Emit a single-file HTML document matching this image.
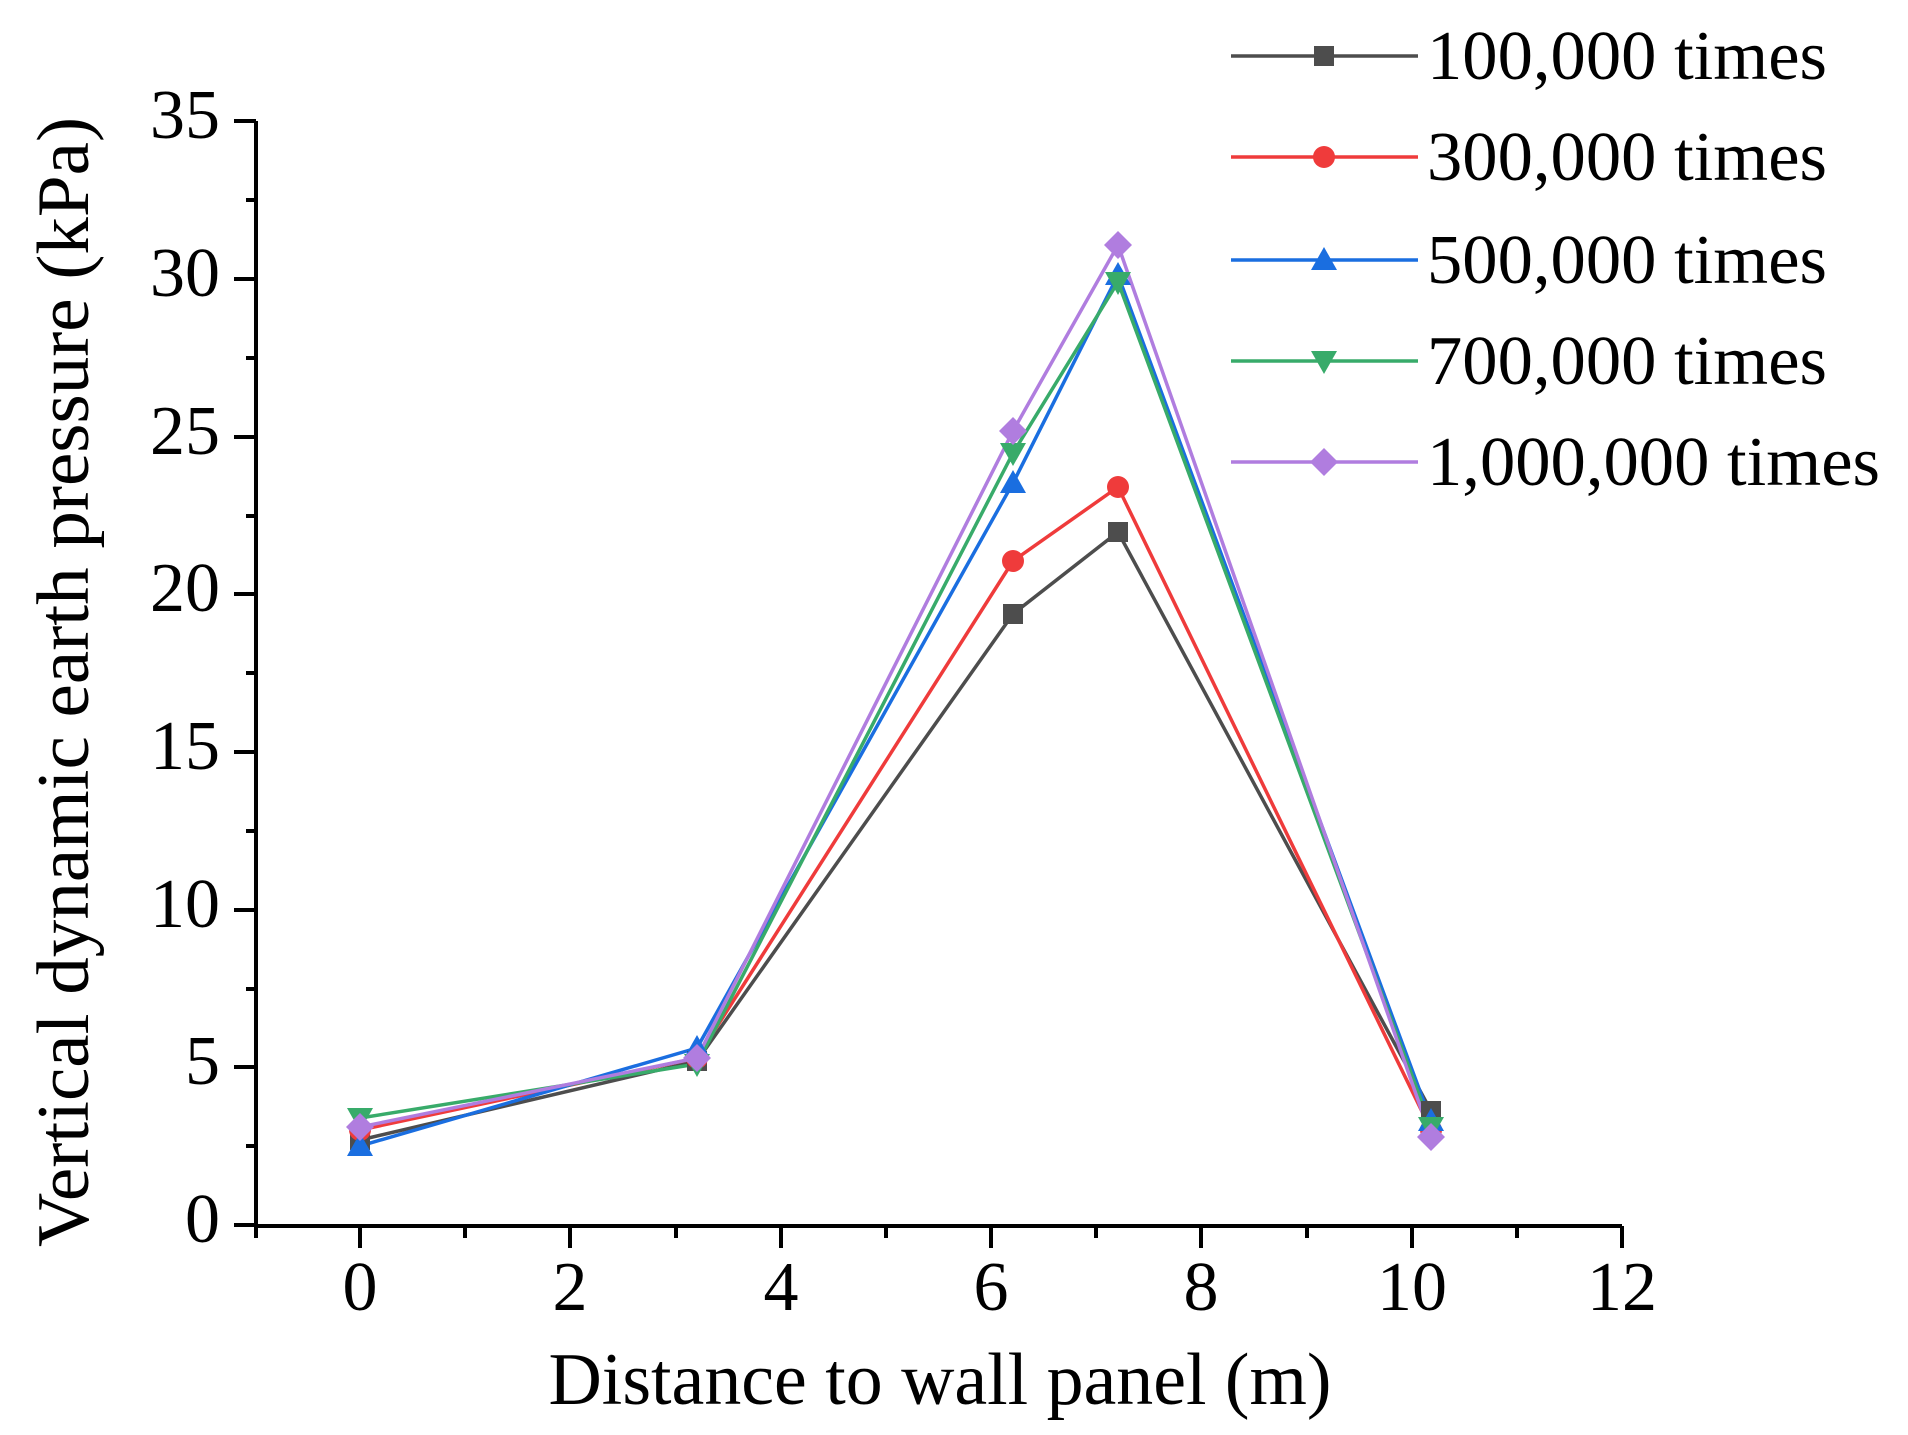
<!DOCTYPE html>
<html><head><meta charset="utf-8"><style>body{margin:0;background:#fff}svg{display:block}</style></head>
<body>
<svg width="1908" height="1435" viewBox="0 0 1908 1435" xmlns="http://www.w3.org/2000/svg" font-family="Liberation Serif, serif">
<defs>
<g id="sq"><rect x="-10" y="-10" width="20" height="20" fill="#4d4d4d"/></g>
<g id="ci"><circle r="11" fill="#ef3b3b"/></g>
<g id="tu"><polygon points="0,-13 13,10 -13,10" fill="#1a6ee0"/></g>
<g id="td"><polygon points="0,13 13,-10 -13,-10" fill="#38ab6a"/></g>
<g id="di"><polygon points="0,-14 14,0 0,14 -14,0" fill="#b07ddf"/></g>
</defs>
<g stroke="#000" stroke-width="4" fill="none">
<path d="M256,121 V1226 H1622"/>
<path d="M234,121H256M234,279H256M234,437H256M234,594H256M234,752H256M234,910H256M234,1067H256M234,1225H256"/>
<path d="M246,200H256M246,358H256M246,516H256M246,673H256M246,831H256M246,989H256M246,1146H256"/>
<path d="M360,1226V1248M570,1226V1248M781,1226V1248M991,1226V1248M1201,1226V1248M1412,1226V1248M1622,1226V1248"/>
<path d="M256,1226V1238M465,1226V1238M676,1226V1238M886,1226V1238M1096,1226V1238M1307,1226V1238M1517,1226V1238"/>
</g>
<g font-size="70" text-anchor="end">
<text x="220" y="138">35</text><text x="220" y="296">30</text><text x="220" y="454">25</text><text x="220" y="611">20</text><text x="220" y="769">15</text><text x="220" y="927">10</text><text x="220" y="1084">5</text><text x="220" y="1242">0</text>
</g>
<g font-size="70" text-anchor="middle">
<text x="360" y="1310">0</text><text x="570" y="1310">2</text><text x="781" y="1310">4</text><text x="991" y="1310">6</text><text x="1201" y="1310">8</text><text x="1412" y="1310">10</text><text x="1622" y="1310">12</text>
</g>
<text x="940" y="1404" font-size="74" text-anchor="middle" textLength="783" lengthAdjust="spacingAndGlyphs">Distance to wall panel (m)</text>
<text transform="translate(88,682) rotate(-90)" font-size="74" text-anchor="middle" textLength="1130" lengthAdjust="spacingAndGlyphs">Vertical dynamic earth pressure (kPa)</text>
<g fill="none" stroke-width="3.5" stroke-linejoin="round">
<polyline stroke="#4d4d4d" points="360,1140 697,1061 1013,614 1118,532 1431,1111"/>
<polyline stroke="#ef3b3b" points="360,1130 697,1058 1013,561 1118,487 1431,1130"/>
<polyline stroke="#1a6ee0" points="360,1146 697,1048 1013,483 1118,275 1431,1121"/>
<polyline stroke="#38ab6a" points="360,1118 697,1064 1013,453 1118,282 1431,1127"/>
<polyline stroke="#b07ddf" points="360,1127 697,1058 1013,431 1118,245 1431,1137"/>
</g>
<use href="#sq" x="360" y="1140"/><use href="#sq" x="697" y="1061"/><use href="#sq" x="1013" y="614"/><use href="#sq" x="1118" y="532"/><use href="#sq" x="1431" y="1111"/>
<use href="#ci" x="360" y="1130"/><use href="#ci" x="697" y="1058"/><use href="#ci" x="1013" y="561"/><use href="#ci" x="1118" y="487"/><use href="#ci" x="1431" y="1130"/>
<use href="#tu" x="360" y="1146"/><use href="#tu" x="697" y="1048"/><use href="#tu" x="1013" y="483"/><use href="#tu" x="1118" y="275"/><use href="#tu" x="1431" y="1121"/>
<use href="#td" x="360" y="1118"/><use href="#td" x="697" y="1064"/><use href="#td" x="1013" y="453"/><use href="#td" x="1118" y="282"/><use href="#td" x="1431" y="1127"/>
<use href="#di" x="360" y="1127"/><use href="#di" x="697" y="1058"/><use href="#di" x="1013" y="431"/><use href="#di" x="1118" y="245"/><use href="#di" x="1431" y="1137"/>
<g stroke-width="3.5">
<line x1="1231" y1="56" x2="1418" y2="56" stroke="#4d4d4d"/>
<line x1="1231" y1="157" x2="1418" y2="157" stroke="#ef3b3b"/>
<line x1="1231" y1="260" x2="1418" y2="260" stroke="#1a6ee0"/>
<line x1="1231" y1="361" x2="1418" y2="361" stroke="#38ab6a"/>
<line x1="1231" y1="462" x2="1418" y2="462" stroke="#b07ddf"/>
</g>
<use href="#sq" x="1324" y="56"/><use href="#ci" x="1324" y="157"/><use href="#tu" x="1324" y="260"/><use href="#td" x="1324" y="361"/><use href="#di" x="1324" y="462"/>
<g font-size="70">
<text x="1427" y="79" textLength="400" lengthAdjust="spacingAndGlyphs">100,000 times</text>
<text x="1427" y="180" textLength="400" lengthAdjust="spacingAndGlyphs">300,000 times</text>
<text x="1427" y="283" textLength="400" lengthAdjust="spacingAndGlyphs">500,000 times</text>
<text x="1427" y="384" textLength="400" lengthAdjust="spacingAndGlyphs">700,000 times</text>
<text x="1427" y="485" textLength="453" lengthAdjust="spacingAndGlyphs">1,000,000 times</text>
</g>
</svg>
</body></html>
